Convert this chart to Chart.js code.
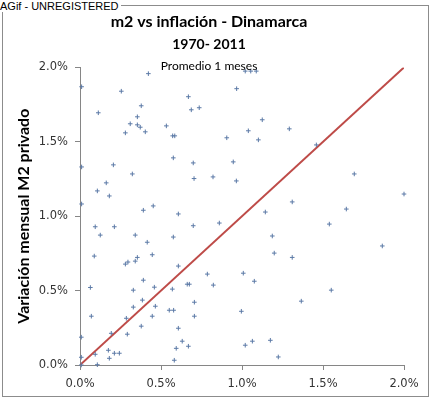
<!DOCTYPE html>
<html>
<head>
<meta charset="utf-8">
<script src="https://cdn.jsdelivr.net/npm/chart.js@4"></script>
<style>
  body { margin: 0; background: #fff; }
  #wrap { position: relative; width: 433px; height: 399px; }
  #frame { position: absolute; left: 2px; top: 5px; width: 425px; height: 390px; border: 1px solid #8c8c8c; }
  #tag { position: absolute; left: 0; top: 0; padding-right: 2px; background: #fff; font: 11px "Liberation Sans", Arial, sans-serif; line-height: 12px; color: #000; }
  canvas { position: absolute; left: 0; top: 0; }
</style>
</head>
<body>
<div id="wrap">
  <div id="frame"></div>
  <canvas id="chart" width="433" height="399"></canvas>
  <div id="tag">AGif - UNREGISTERED</div>
</div>
<script>
// inflación mensual (x) vs variación mensual M2 privado (y), en %
const inflacion = [
  0.010, 0.255, 0.422, 0.113, 0.669, 0.687, 0.736, 0.378, 0.354, 0.310,
  0.354, 0.372, 0.280, 0.403, 0.533, 0.572, 0.585, 0.906, 1.039, 1.101,
  0.967, 1.020, 1.054, 1.088, 0.576, 0.699, 0.010, 0.206, 0.323, 0.704,
  0.821, 0.946, 0.965, 0.162, 0.107, 0.181, 0.010, 0.391, 0.452, 0.607,
  1.125, 1.292, 1.459, 1.693, 2.000, 1.310, 1.144, 1.644, 0.094, 0.212,
  0.125, 0.341, 0.576, 0.699, 0.860, 0.415, 0.088, 0.446, 0.280, 0.296,
  0.341, 0.354, 0.607, 0.391, 0.064, 0.329, 0.459, 0.570, 0.662, 0.675,
  0.786, 0.823, 1.008, 1.076, 0.385, 0.329, 0.465, 0.706, 0.070, 0.286,
  0.446, 0.551, 0.578, 0.706, 0.996, 0.378, 0.193, 0.292, 0.607, 0.631,
  0.669, 0.594, 1.020, 1.064, 0.008, 0.175, 0.212, 0.243, 0.181, 0.094,
  0.008, 0.107, 0.582, 0.008, 1.539, 1.187, 1.866, 1.199, 1.310, 1.551,
  1.366, 1.175, 1.224
];
const m2Privado = [
  1.870, 1.840, 1.958, 1.695, 1.803, 1.715, 1.729, 1.742, 1.668, 1.621,
  1.614, 1.598, 1.560, 1.567, 1.607, 1.540, 1.540, 1.527, 1.574, 1.513,
  1.857, 1.975, 1.975, 1.975, 1.392, 1.358, 1.331, 1.345, 1.284, 1.253,
  1.264, 1.365, 1.237, 1.224, 1.170, 1.136, 1.082, 1.040, 1.069, 1.015,
  1.648, 1.587, 1.479, 1.284, 1.149, 1.096, 1.028, 1.048, 0.929, 0.929,
  0.873, 0.873, 0.860, 0.936, 0.954, 0.825, 0.732, 0.741, 0.678, 0.692,
  0.698, 0.723, 0.665, 0.570, 0.521, 0.503, 0.523, 0.510, 0.543, 0.543,
  0.611, 0.537, 0.617, 0.563, 0.436, 0.389, 0.395, 0.422, 0.328, 0.314,
  0.328, 0.368, 0.368, 0.328, 0.361, 0.261, 0.213, 0.207, 0.247, 0.160,
  0.126, 0.112, 0.133, 0.160, 0.187, 0.099, 0.079, 0.079, 0.045, 0.072,
  0.052, 0.002, 0.032, 0.000, 0.947, 0.867, 0.800, 0.752, 0.723, 0.503,
  0.429, 0.166, 0.054
];
// línea de 45 grados
const lineaX = [0, 2];
const lineaY = [0, 2];
const ejeTicks = [0, 0.5, 1, 1.5, 2];

const axisColor = '#868686';
const tickFont = { family: 'DejaVu Sans', size: 11.5 };
const boldFont = { family: 'Lato', size: 16, weight: 'bold' };

// "Promedio 1 meses" sits over the top of the plot area
const notePlugin = {
  id: 'note',
  afterDraw(chart) {
    const { ctx, chartArea } = chart;
    ctx.save();
    ctx.font = '12px Lato';
    ctx.fillStyle = '#000';
    ctx.textAlign = 'center';
    ctx.textBaseline = 'middle';
    ctx.fillText('Promedio 1 meses', chartArea.left + 129, chartArea.top - 1);
    ctx.restore();
  }
};

const tickScale = extra => Object.assign({
  type: 'linear',
  min: 0,
  max: 2,
  afterBuildTicks: s => { s.ticks = ejeTicks.map(v => ({ value: v })); },
  ticks: {
    callback: v => v.toFixed(1) + '%',
    font: tickFont,
    color: '#333',
    padding: 7,
    maxRotation: 0
  },
  grid: { drawOnChartArea: false, tickLength: 5, color: axisColor },
  border: { color: axisColor, width: 1 }
}, extra);

new Chart(document.getElementById('chart'), {
  type: 'scatter',
  data: {
    datasets: [
      {
        data: inflacion.map((x, i) => ({ x, y: m2Privado[i] })),
        pointStyle: 'cross',
        pointRadius: 2.3,
        borderWidth: 1,
        borderColor: '#5b79a6',
        backgroundColor: '#5b79a6',
        clip: false
      },
      {
        data: lineaX.map((x, i) => ({ x, y: lineaY[i] })),
        showLine: true,
        pointRadius: 0,
        borderColor: '#be4b48',
        borderWidth: 2
      }
    ]
  },
  options: {
    responsive: false,
    animation: false,
    devicePixelRatio: 1,
    layout: { padding: { left: 14, right: 29, top: 0, bottom: 0 } },
    plugins: {
      legend: { display: false },
      tooltip: { enabled: false },
      title: {
        display: true,
        text: 'm2 vs inflación - Dinamarca',
        font: boldFont,
        color: '#000',
        padding: { top: 12, bottom: 2 }
      },
      subtitle: {
        display: true,
        text: '1970- 2011',
        font: { family: 'Lato', size: 14, weight: 'bold' },
        color: '#000',
        padding: { top: 3, bottom: 14.4 }
      }
    },
    scales: {
      x: tickScale({
        afterFit: s => { s.height = 34; }
      }),
      y: tickScale({
        title: {
          display: true,
          text: 'Variación mensual M2 privado',
          font: boldFont,
          color: '#000',
          padding: 0
        },
        afterFit: s => { s.width = 66; }
      })
    }
  },
  plugins: [notePlugin]
});
</script>
</body>
</html>
